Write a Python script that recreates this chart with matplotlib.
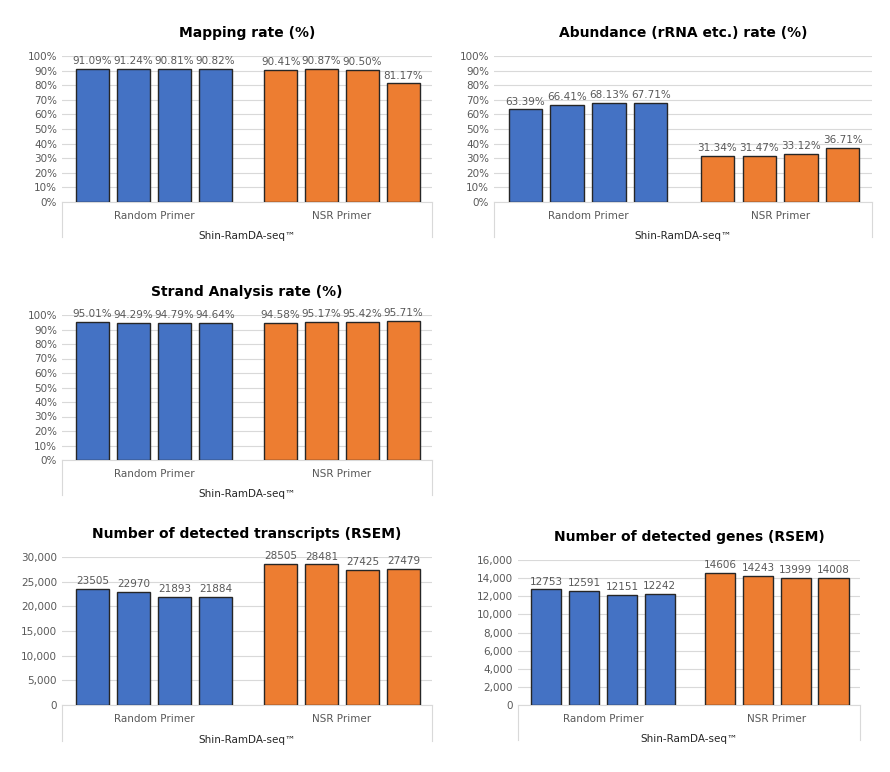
import matplotlib.pyplot as plt
import numpy as np
from matplotlib.ticker import FuncFormatter

groups = ['Random Primer', 'NSR Primer']
xlabel = 'Shin-RamDA-seq\u2122'

mapping = [91.09, 91.24, 90.81, 90.82, 90.41, 90.87, 90.50, 81.17]
abundance = [63.39, 66.41, 68.13, 67.71, 31.34, 31.47, 33.12, 36.71]
strand = [95.01, 94.29, 94.79, 94.64, 94.58, 95.17, 95.42, 95.71]
transcripts = [23505, 22970, 21893, 21884, 28505, 28481, 27425, 27479]
genes = [12753, 12591, 12151, 12242, 14606, 14243, 13999, 14008]

blue = '#4472c4'
orange = '#ed7d31'
W, H = 890, 772

fig = plt.figure(figsize=(W / 100, H / 100), dpi=100)


def panel(rect, title, vals, pct, ymax, step):
    x0, y_top, x1, y_bot = rect
    ax = fig.add_axes([x0 / W, 1 - y_bot / H, (x1 - x0) / W, (y_bot - y_top) / H])
    pos = np.array([0, 1, 2, 3, 4.6, 5.6, 6.6, 7.6])
    colors = [blue] * 4 + [orange] * 4
    ax.bar(pos, vals, width=0.8, color=colors, edgecolor='#262626', linewidth=1, zorder=3)
    for p, v in zip(pos, vals):
        lab = f'{v:.2f}%' if pct else f'{v}'
        ax.text(p, v + ymax * 0.02, lab, ha='center', va='bottom', fontsize=7.5, color='#595959')
    ax.set_xlim(-0.75, 8.3)
    ax.set_ylim(0, ymax)
    ax.set_yticks(np.arange(0, ymax + step / 2, step))
    if pct:
        ax.yaxis.set_major_formatter(FuncFormatter(lambda v, _: f'{v:.0f}%'))
    else:
        ax.yaxis.set_major_formatter(FuncFormatter(lambda v, _: f'{v:,.0f}'))
    ax.tick_params(axis='y', length=0, labelsize=7.5, labelcolor='#595959')
    ax.set_xticks([])
    ax.grid(axis='y', color='#d9d9d9', linewidth=0.8, zorder=0)
    for s in ['top', 'right', 'left']:
        ax.spines[s].set_visible(False)
    ax.spines['bottom'].set_color('#d9d9d9')
    ax.set_title(title, fontsize=10, fontweight='bold', pad=14)
    ax.text(1.5, -0.06, groups[0], transform=ax.get_xaxis_transform(), ha='center', va='top', fontsize=7.5, color='#595959')
    ax.text(6.1, -0.06, groups[1], transform=ax.get_xaxis_transform(), ha='center', va='top', fontsize=7.5, color='#595959')
    ax.text(0.5, -0.2, xlabel, transform=ax.transAxes, ha='center', va='top', fontsize=7.5, color='#262626')
    for xv in [0, 1]:
        ax.plot([xv, xv], [0, -0.24], transform=ax.transAxes, color='#d9d9d9', lw=0.8, clip_on=False)


panel((62, 56, 432, 202), 'Mapping rate (%)', mapping, True, 100, 10)
panel((494, 56, 872, 202), 'Abundance (rRNA etc.) rate (%)', abundance, True, 100, 10)
panel((62, 315, 432, 460), 'Strand Analysis rate (%)', strand, True, 100, 10)
panel((62, 557, 432, 705), 'Number of detected transcripts (RSEM)', transcripts, False, 30000, 5000)
panel((518, 560, 860, 705), 'Number of detected genes (RSEM)', genes, False, 16000, 2000)

fig.savefig('out.png', dpi=100, facecolor='white')
